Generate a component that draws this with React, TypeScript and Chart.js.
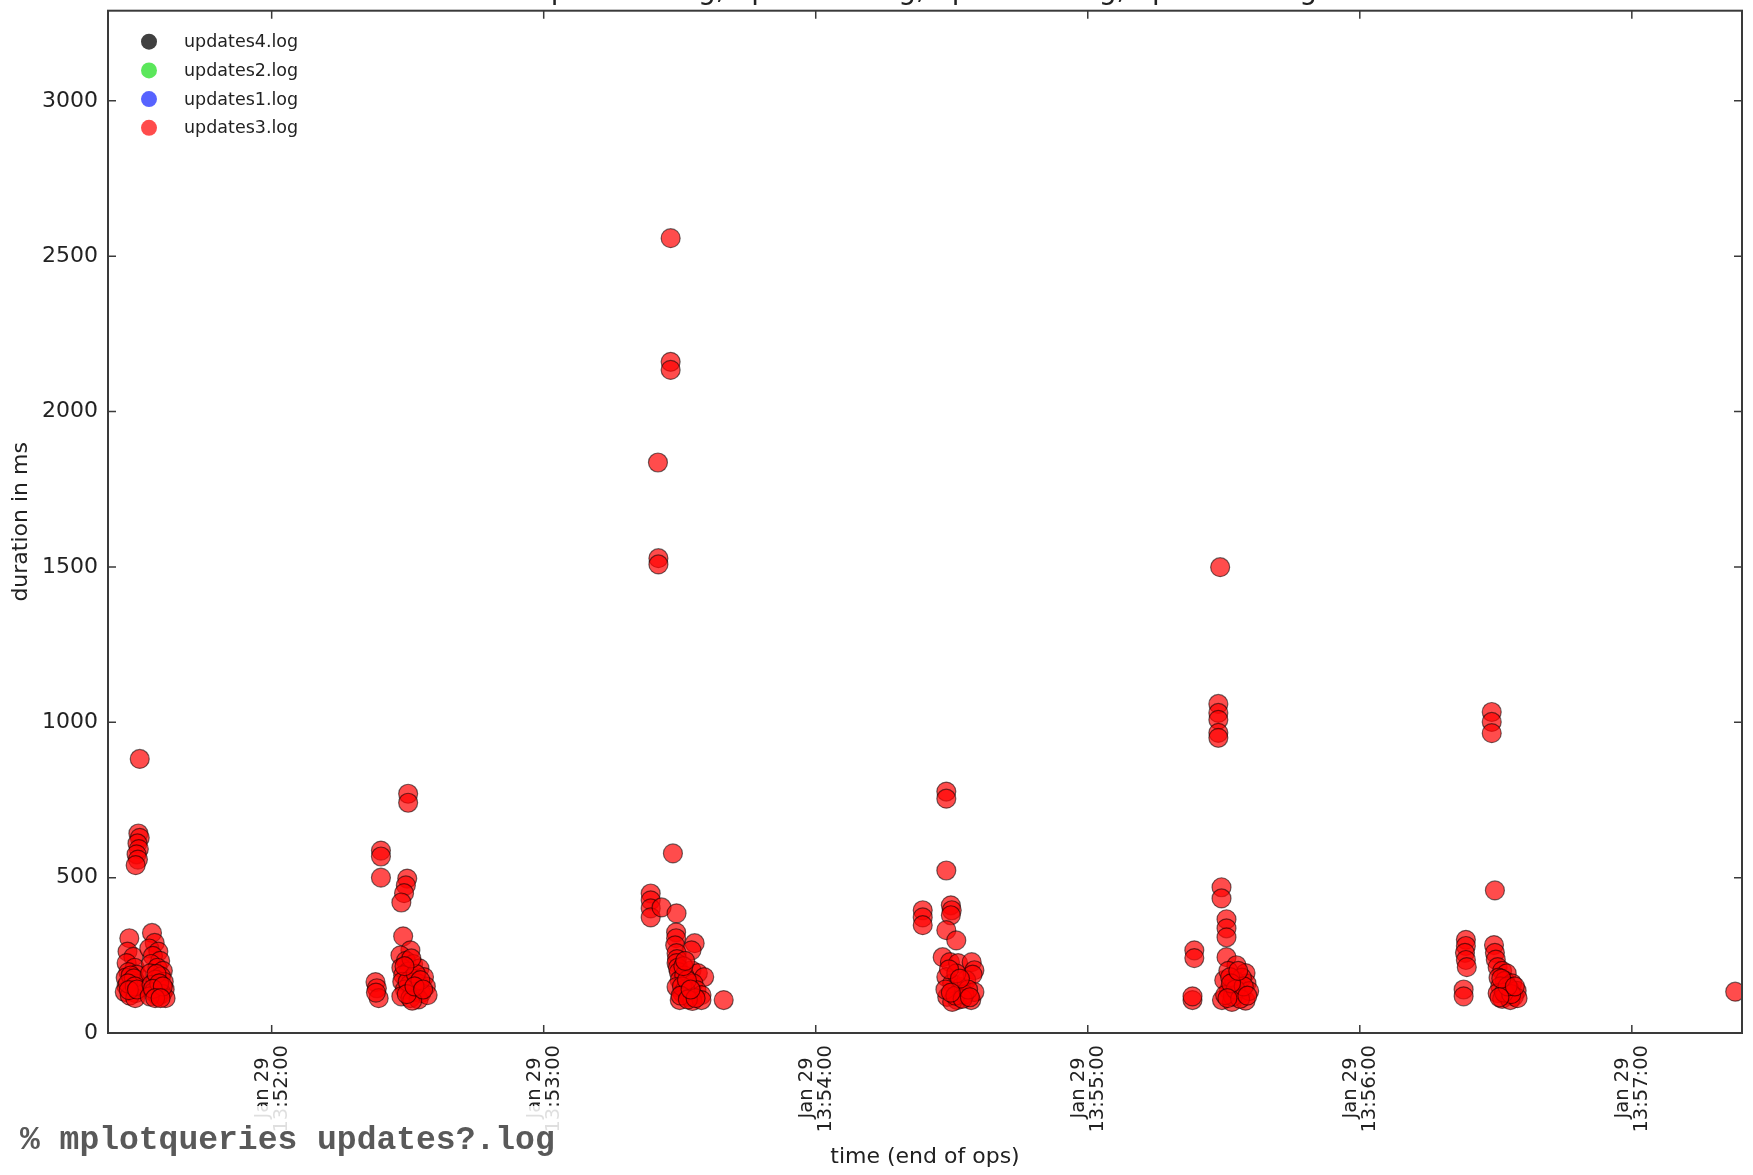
import React, { useEffect, useRef } from 'react';
import { Chart, registerables } from 'chart.js';

Chart.register(...registerables);

// Log files plotted, in legend order, with their marker colours
const seriesNames = ['updates4.log', 'updates2.log', 'updates1.log', 'updates3.log'];
const seriesColors = ['rgba(30,30,30,0.85)', 'rgba(50,225,50,0.8)', 'rgba(45,60,255,0.8)', 'rgba(255,0,0,0.7)'];

// Each point: [seconds after 13:51:00 on Jan 29, duration in ms]
const updates4Points: number[][] = [];
const updates2Points: number[][] = [];
const updates1Points: number[][] = [];

const burst1 = [
  [30.9, 882],
  [30.6, 642], [30.9, 628], [30.4, 610], [30.7, 592], [30.2, 575], [30.5, 558], [30.0, 540],
  [28.6, 305], [28.2, 262], [29.5, 245], [28.0, 225], [29.8, 210], [28.4, 196], [30.2, 188], [27.8, 178],
  [29.1, 168], [30.4, 158], [28.0, 150], [29.4, 142], [27.6, 132], [30.0, 128], [28.7, 120], [29.9, 112],
  [28.9, 185], [29.6, 176], [28.3, 160], [29.8, 150], [28.5, 138], [30.3, 140],
  [33.6, 322], [34.2, 290], [33.0, 272], [35.0, 262], [33.8, 248], [35.4, 232], [33.4, 222], [34.8, 210],
  [36.0, 200], [33.2, 192], [35.6, 182], [34.4, 172], [36.2, 165], [33.5, 155], [35.0, 148], [36.4, 140],
  [34.0, 132], [35.8, 126], [34.9, 118], [36.6, 112], [33.1, 118],
  [34.6, 190], [35.2, 160], [33.8, 142], [36.0, 150], [34.3, 112], [35.5, 112],
];

const burst2 = [
  [90.1, 770], [90.1, 741],
  [84.1, 587], [84.1, 568], [84.1, 500],
  [89.9, 497], [89.6, 475], [89.2, 450], [88.6, 420],
  [82.9, 164], [83.2, 144], [83.6, 112], [83.0, 130],
  [89.0, 311], [90.6, 266], [88.4, 250], [89.6, 232], [91.2, 222], [88.6, 210], [90.2, 198], [92.6, 208],
  [89.0, 186], [91.0, 176], [93.6, 180], [88.8, 165], [90.4, 155], [92.2, 160], [94.0, 150], [89.4, 140],
  [91.6, 132], [93.0, 128], [88.6, 118], [90.6, 112], [92.4, 108], [94.4, 122], [91.0, 104],
  [90.0, 165], [91.8, 190], [92.8, 170], [89.8, 125], [91.5, 150], [93.4, 140], [90.8, 240], [89.3, 215],
];

const burst3 = [
  [148.0, 2558], [148.0, 2160], [148.0, 2134], [145.2, 1836], [145.3, 1528], [145.3, 1508], [148.5, 578],
  [143.6, 449], [143.6, 427], [143.6, 401], [143.6, 372], [146.0, 404], [149.3, 385],
  [149.2, 324], [149.2, 305], [149.0, 282], [153.3, 289], [152.6, 266],
  [149.3, 257], [149.4, 238], [149.3, 225], [149.6, 210], [149.8, 196], [150.0, 170],
  [152.6, 202], [154.0, 193], [155.4, 180], [151.0, 185], [153.0, 160],
  [149.3, 148], [150.6, 128], [152.2, 116], [153.7, 138], [154.8, 122], [151.2, 140],
  [150.0, 106], [152.8, 103], [154.8, 106], [159.7, 106],
  [150.5, 150], [151.6, 170], [150.2, 120], [151.8, 108], [153.5, 112], [150.8, 215], [151.2, 232], [152.4, 140],
];

const burst4 = [
  [208.8, 777], [208.8, 754], [208.8, 523],
  [203.6, 395], [203.6, 372], [203.6, 347],
  [209.8, 411], [210.0, 395], [209.8, 379], [208.8, 331], [211.0, 298],
  [208.0, 244], [209.6, 228], [211.4, 225], [214.4, 228], [215.0, 202],
  [208.8, 180], [210.1, 160], [212.1, 148], [213.2, 170], [214.6, 188], [211.0, 192],
  [209.0, 116], [211.2, 106], [214.3, 106], [215.0, 132], [210.1, 100], [212.8, 124], [208.6, 140],
  [209.4, 205], [210.8, 120], [212.4, 110], [213.6, 140], [211.8, 175], [209.8, 130], [214.0, 115],
];

const burst5 = [
  [269.2, 1499],
  [268.8, 1059], [268.8, 1030], [268.8, 1008], [268.8, 966], [268.8, 950],
  [269.5, 469], [269.5, 433],
  [270.6, 366], [270.6, 337], [270.6, 308], [270.6, 244],
  [263.5, 266], [263.5, 241], [263.1, 106], [263.1, 118],
  [272.8, 218], [274.8, 193], [275.0, 160], [273.9, 128], [271.1, 138], [269.6, 106], [271.8, 100],
  [274.8, 104], [270.1, 170], [272.3, 170], [273.0, 150], [271.0, 200], [274.0, 178], [275.6, 135],
  [272.0, 118], [270.3, 122],
  [271.4, 180], [272.6, 140], [273.6, 110], [274.4, 150], [271.6, 160], [273.2, 200], [275.2, 120], [270.8, 112],
];

const burst6 = [
  [329.1, 1033], [329.1, 1001], [329.1, 965], [329.8, 459],
  [323.4, 300], [323.4, 280], [323.2, 258], [323.4, 235], [323.6, 212],
  [322.9, 140], [322.9, 118],
  [329.6, 283], [329.8, 258], [330.0, 236], [330.4, 212], [331.4, 200], [332.4, 192],
  [330.6, 178], [332.0, 168], [333.6, 160], [331.0, 150], [333.0, 142], [334.6, 136], [330.4, 128],
  [332.2, 122], [334.0, 118], [331.4, 110], [333.2, 106], [334.8, 112],
  [331.8, 130], [333.4, 125], [332.6, 150], [331.2, 175], [334.2, 150], [330.8, 115],
];

const burst7 = [[382.8, 133]];

const updates3Points = [...burst1, ...burst2, ...burst3, ...burst4, ...burst5, ...burst6, ...burst7];

// Axes
const xMinSec = 23.9;
const xMaxSec = 384.3;
const xTickSec = [60, 120, 180, 240, 300, 360];
const tickDate = 'Jan 29';
const baseHour = 13;
const baseMinute = 51;
const yMax = 3290;
const yTicks = [0, 500, 1000, 1500, 2000, 2500, 3000];

const chartTitle = seriesNames.join(', ');
const xTitle = 'time (end of ops)';
const yTitle = 'duration in ms';
const commandLine = '% mplotqueries updates?.log';

const pad2 = (n: number) => String(n).padStart(2, '0');
const clock = (sec: number) => {
  const total = baseMinute * 60 + Math.round(sec);
  const m = Math.floor(total / 60);
  const s = total % 60;
  return `${baseHour}:${pad2(m)}:${pad2(s)}`;
};

const W = 1753;
const H = 1175;
const PLOT_LEFT = 108;
const PLOT_TOP = 8;
const PLOT_RIGHT = 1742;
const PLOT_BOTTOM = 1033;
const FONT = "'DejaVu Sans', 'Liberation Sans', sans-serif";

const framePlugin = {
  id: 'frameAndLabels',
  afterDraw(chart: any) {
    const { ctx, chartArea } = chart;
    const { left, right, top, bottom } = chartArea;
    const xs = chart.scales.x;
    const ys = chart.scales.y;
    ctx.save();

    // plot frame
    ctx.strokeStyle = '#3a3a3a';
    ctx.lineWidth = 2;
    ctx.strokeRect(left, top, right - left, bottom - top);

    // inward tick marks on all four sides
    ctx.lineWidth = 1.5;
    const tl = 8;
    ctx.beginPath();
    xs.ticks.forEach((t: any) => {
      const px = xs.getPixelForValue(t.value);
      ctx.moveTo(px, bottom);
      ctx.lineTo(px, bottom - tl);
      ctx.moveTo(px, top);
      ctx.lineTo(px, top + tl);
    });
    ys.ticks.forEach((t: any) => {
      const py = ys.getPixelForValue(t.value);
      ctx.moveTo(left, py);
      ctx.lineTo(left + tl, py);
      ctx.moveTo(right, py);
      ctx.lineTo(right - tl, py);
    });
    ctx.stroke();

    // legend inside the plot, top-left
    ctx.textBaseline = 'middle';
    ctx.textAlign = 'left';
    ctx.font = `17.5px ${FONT}`;
    chart.data.datasets.forEach((ds: any, i: number) => {
      const cy = top + 31 + i * 28.7;
      const cx = left + 41;
      ctx.beginPath();
      ctx.arc(cx, cy, 8, 0, Math.PI * 2);
      ctx.fillStyle = ds.backgroundColor;
      ctx.fill();
      ctx.fillStyle = '#222';
      ctx.fillText(ds.label, left + 76, cy + 1);
    });

    // title above the frame
    ctx.font = `28px ${FONT}`;
    ctx.textAlign = 'center';
    ctx.textBaseline = 'alphabetic';
    ctx.fillStyle = '#222';
    ctx.fillText(chartTitle, (left + right) / 2, -1);

    // axis titles
    ctx.font = `22px ${FONT}`;
    ctx.textBaseline = 'middle';
    ctx.fillText(xTitle, (left + right) / 2, 1157);
    ctx.save();
    ctx.translate(21, (top + bottom) / 2);
    ctx.rotate(-Math.PI / 2);
    ctx.fillText(yTitle, 0, 0);
    ctx.restore();

    ctx.restore();
  },
};

export default function App() {
  const canvasRef = useRef<HTMLCanvasElement | null>(null);

  useEffect(() => {
    const canvas = canvasRef.current;
    if (!canvas) return;
    const toXY = (pts: number[][]) => pts.map(([x, y]) => ({ x, y }));
    const allSeries = [updates4Points, updates2Points, updates1Points, updates3Points];

    const chart = new Chart(canvas, {
      type: 'scatter',
      data: {
        datasets: seriesNames.map((name, i) => ({
          label: name,
          data: toXY(allSeries[i]),
          backgroundColor: seriesColors[i],
          borderColor: 'rgba(0,0,0,0.55)',
          borderWidth: 1.2,
          pointRadius: 9.5,
          pointHoverRadius: 9.5,
        })),
      },
      options: {
        responsive: false,
        animation: false,
        devicePixelRatio: 1,
        layout: { padding: { left: 0, right: W - PLOT_RIGHT, top: PLOT_TOP, bottom: 0 } },
        plugins: {
          legend: { display: false },
          tooltip: { enabled: false },
          title: { display: false },
        },
        scales: {
          x: {
            type: 'linear',
            min: xMinSec,
            max: xMaxSec,
            afterBuildTicks: (s: any) => {
              s.ticks = xTickSec.map((v) => ({ value: v }));
            },
            afterFit: (s: any) => {
              s.height = H - PLOT_BOTTOM;
              s.paddingLeft = 0;
              s.paddingRight = 0;
            },
            grid: { display: false, drawTicks: false },
            border: { display: false },
            ticks: {
              autoSkip: false,
              minRotation: 90,
              maxRotation: 90,
              padding: 12,
              labelOffset: -9,
              color: '#222',
              font: { family: FONT, size: 19.5, lineHeight: 1.0 },
              // the date line is held back from the axis so it sits centred on the time line
              callback: (v: any) => [tickDate + '  ', clock(Number(v))],
            },
          },
          y: {
            min: 0,
            max: yMax,
            afterBuildTicks: (s: any) => {
              s.ticks = yTicks.map((v) => ({ value: v }));
            },
            afterFit: (s: any) => {
              s.width = PLOT_LEFT;
              s.paddingTop = 0;
              s.paddingBottom = 0;
            },
            grid: { display: false, drawTicks: false },
            border: { display: false },
            ticks: {
              padding: 10,
              color: '#222',
              font: { family: FONT, size: 22 },
              callback: (v: any) => String(v),
            },
          },
        },
      },
      plugins: [framePlugin],
    } as any);

    return () => chart.destroy();
  }, []);

  return (
    <div style={{ position: 'fixed', left: 0, top: 0, width: W, height: H, background: '#fff', overflow: 'hidden' }}>
      <canvas ref={canvasRef} width={W} height={H} style={{ display: 'block', width: W, height: H }} />
      <div
        style={{
          position: 'absolute',
          left: 0,
          top: 1106,
          width: 590,
          height: 69,
          background: 'rgba(255,255,255,0.86)',
        }}
      >
        <div
          style={{
            position: 'absolute',
            left: 20,
            top: 18,
            fontFamily: "'Liberation Mono', 'DejaVu Sans Mono', monospace",
            fontWeight: 'bold',
            fontSize: 33,
            lineHeight: '33px',
            color: '#595959',
            whiteSpace: 'pre',
          }}
        >
          {commandLine}
        </div>
      </div>
    </div>
  );
}
